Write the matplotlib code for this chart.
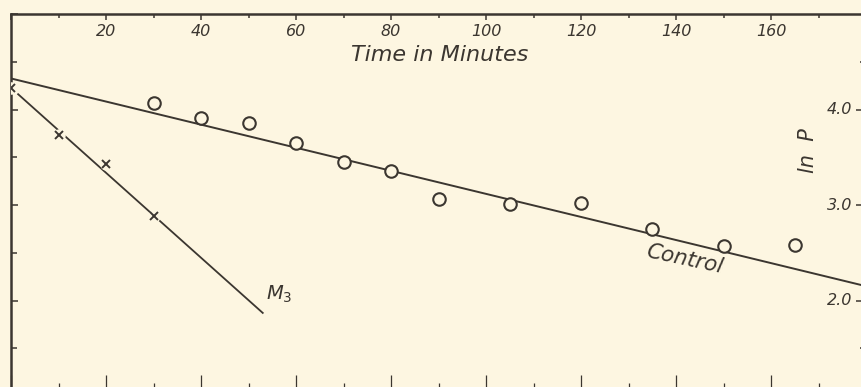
import matplotlib
matplotlib.use("Agg")
import matplotlib.pyplot as plt
from matplotlib.ticker import MultipleLocator, FixedLocator

# --- data ---
control_t = [30, 40, 50, 60, 70, 80, 90, 105, 120, 135, 150, 165]
control_lnp = [4.07, 3.91, 3.86, 3.65, 3.45, 3.36, 3.06, 3.01, 3.02, 2.75, 2.57, 2.58]
control_fit_t = [0, 180]
control_fit_lnp = [4.325, 2.15]

m3_t = [0, 10, 20, 30]
m3_lnp = [4.23, 3.73, 3.43, 2.885]
m3_fit_t = [1.5, 53]
m3_fit_lnp = [4.16, 1.87]

x_ticks = [20, 40, 60, 80, 100, 120, 140, 160]
y_ticks = [2.0, 3.0, 4.0]
y_minor_right = [1.5, 4.5]

bg = "#fdf6e1"
ink = "#3b3630"
fnt = dict(family="DejaVu Sans", style="oblique", color=ink)

fig = plt.figure(figsize=(8.61, 3.87), dpi=100, facecolor=bg)
# axes run past the right and bottom edges, like the cropped scan
ax = fig.add_axes([11 / 861, -9 / 387, 855 / 861, 382 / 387], facecolor=bg)
ax.set_xlim(0, 180)
ax.set_ylim(1.0, 5.0)

for s in ax.spines.values():
    s.set_color(ink)
    s.set_linewidth(1.8)

# fitted lines
ax.plot(control_fit_t, control_fit_lnp, color=ink, lw=1.4, zorder=2)
ax.plot(m3_fit_t, m3_fit_lnp, color=ink, lw=1.3, zorder=2)

# control points (open circles)
ax.plot(control_t, control_lnp, "o", ms=9, mfc=bg, mec=ink, mew=1.5, zorder=3)
# M3 points: small crosses with a gap in the line around them
ax.plot(m3_t, m3_lnp, "o", ms=9, mfc=bg, mec="none", zorder=3)
ax.plot(m3_t, m3_lnp, "x", ms=6, mec=ink, mew=1.4, zorder=4)

# ticks: top and left on the main axes (lengths in points)
ax.xaxis.set_major_locator(MultipleLocator(20))
ax.xaxis.set_minor_locator(MultipleLocator(10))
ax.yaxis.set_major_locator(MultipleLocator(1.0))
ax.yaxis.set_minor_locator(MultipleLocator(0.5))
ax.tick_params(which="both", direction="in", colors=ink, width=1.1,
               top=True, bottom=False, left=True, right=False,
               labelbottom=False, labelleft=False, labeltop=False, labelright=False)
ax.tick_params(axis="x", which="major", length=4)
ax.tick_params(axis="x", which="minor", length=3)
ax.tick_params(axis="y", which="major", length=5)
ax.tick_params(axis="y", which="minor", length=4.5)

# bottom ticks are long, right ticks sparse
axb = ax.secondary_xaxis("bottom")
axb.xaxis.set_major_locator(MultipleLocator(20))
axb.xaxis.set_minor_locator(MultipleLocator(10))
axb.tick_params(which="both", direction="in", colors=ink, width=0.9, labelbottom=False)
axb.tick_params(which="major", length=15)
axb.tick_params(which="minor", length=9.5)
axb.spines["bottom"].set_color(ink)

axr = ax.secondary_yaxis("right")
axr.yaxis.set_major_locator(FixedLocator(y_ticks))
axr.yaxis.set_minor_locator(FixedLocator(y_minor_right))
axr.tick_params(which="both", direction="in", colors=ink, width=1.1, labelright=False)
axr.tick_params(which="major", length=7)
axr.tick_params(which="minor", length=4.5)
axr.spines["right"].set_color(ink)

# tick labels drawn inside the frame
xtr = ax.get_xaxis_transform()
for t in x_ticks:
    ax.text(t, 0.955, str(t), transform=xtr, ha="center", va="center",
            fontsize=11.5, **fnt)
ytr = ax.get_yaxis_transform()
for v in y_ticks:
    ax.text(0.9835, v, f"{v:.1f}", transform=ytr, ha="right", va="center",
            fontsize=11.5, **fnt)

# labels
ax.text(90.3, 4.57, "Time in Minutes", ha="center", va="center", fontsize=16, **fnt)
ax.text(167.8, 3.57, "ln  P", ha="center", va="center", rotation=90, fontsize=15, **fnt)
ax.text(141.7, 2.43, "Control", ha="center", va="center", rotation=-12, fontsize=15.5, **fnt)
ax.text(56.5, 2.06, "$M_3$", ha="center", va="center", fontsize=14, **fnt)

fig.savefig("out.png", dpi=100, facecolor=bg)
